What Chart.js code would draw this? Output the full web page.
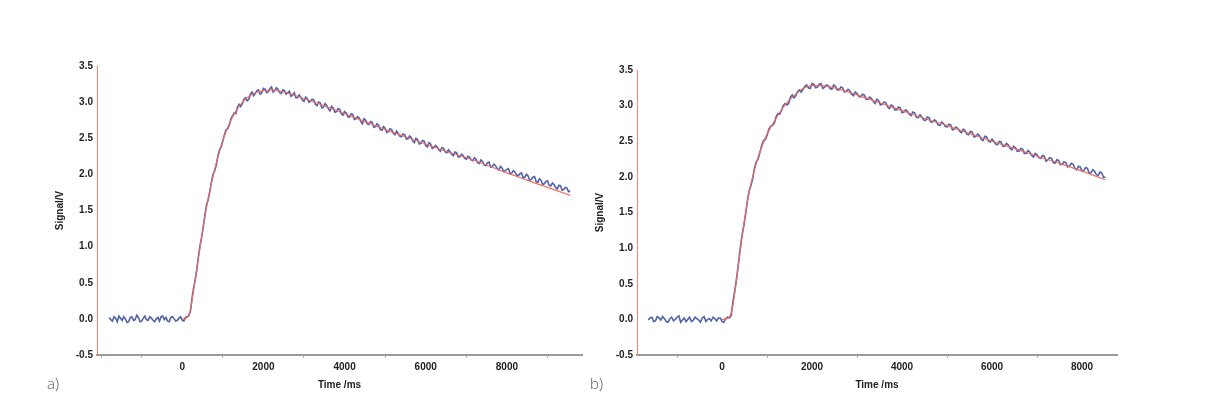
<!DOCTYPE html>
<html>
<head>
<meta charset="utf-8">
<script src="https://cdn.jsdelivr.net/npm/chart.js@4"></script>
<style>
  body {
    margin: 0;
    width: 1217px;
    height: 399px;
    background: #fff;
    position: relative;
    overflow: hidden;
  }
  canvas { position: absolute; top: 0; }
  #chartA { left: 0; }
  #chartB { left: 540px; }
  .panel {
    position: absolute;
    top: 376px;
    font-family: "Open Sans", sans-serif;
    font-weight: 300;
    font-size: 15px;
    line-height: 15px;
    color: #555;
  }
</style>
</head>
<body>
<canvas id="chartA" width="600" height="399"></canvas>
<canvas id="chartB" width="600" height="399"></canvas>
<div class="panel" style="left:47px">a)</div>
<div class="panel" style="left:590px">b)</div>

<script>
// time axis: small tick marks every 1000 ms, labels every 2000 ms
const xTickMarks = [-2000, -1000, 0, 1000, 2000, 3000, 4000, 5000, 6000, 7000, 8000, 9000];
const xTickLabels = [0, 2000, 4000, 6000, 8000];

// panel a) measured signal (blue)
const timesA = [
  -1800, -1760, -1720, -1680, -1640, -1600, -1560, -1520, -1480, -1440,
  -1400, -1360, -1320, -1280, -1240, -1200, -1160, -1120, -1080, -1040,
  -1000, -960, -920, -880, -840, -800, -760, -720, -680, -640,
  -600, -560, -520, -480, -440, -400, -360, -320, -280, -240,
  -200, -160, -120, -80, -40, 0, 40, 80, 120, 160,
  200, 240, 280, 320, 360, 400, 440, 480, 520, 560,
  600, 640, 680, 720, 760, 800, 840, 880, 920, 960,
  1000, 1040, 1080, 1120, 1160, 1200, 1240, 1280, 1320, 1360,
  1400, 1440, 1480, 1520, 1560, 1600, 1640, 1680, 1720, 1760,
  1800, 1840, 1880, 1920, 1960, 2000, 2040, 2080, 2120, 2160,
  2200, 2240, 2280, 2320, 2360, 2400, 2440, 2480, 2520, 2560,
  2600, 2640, 2680, 2720, 2760, 2800, 2840, 2880, 2920, 2960,
  3000, 3040, 3080, 3120, 3160, 3200, 3240, 3280, 3320, 3360,
  3400, 3440, 3480, 3520, 3560, 3600, 3640, 3680, 3720, 3760,
  3800, 3840, 3880, 3920, 3960, 4000, 4040, 4080, 4120, 4160,
  4200, 4240, 4280, 4320, 4360, 4400, 4440, 4480, 4520, 4560,
  4600, 4640, 4680, 4720, 4760, 4800, 4840, 4880, 4920, 4960,
  5000, 5040, 5080, 5120, 5160, 5200, 5240, 5280, 5320, 5360,
  5400, 5440, 5480, 5520, 5560, 5600, 5640, 5680, 5720, 5760,
  5800, 5840, 5880, 5920, 5960, 6000, 6040, 6080, 6120, 6160,
  6200, 6240, 6280, 6320, 6360, 6400, 6440, 6480, 6520, 6560,
  6600, 6640, 6680, 6720, 6760, 6800, 6840, 6880, 6920, 6960,
  7000, 7040, 7080, 7120, 7160, 7200, 7240, 7280, 7320, 7360,
  7400, 7440, 7480, 7520, 7560, 7600, 7640, 7680, 7720, 7760,
  7800, 7840, 7880, 7920, 7960, 8000, 8040, 8080, 8120, 8160,
  8200, 8240, 8280, 8320, 8360, 8400, 8440, 8480, 8520, 8560,
  8600, 8640, 8680, 8720, 8760, 8800, 8840, 8880, 8920, 8960,
  9000, 9040, 9080, 9120, 9160, 9200, 9240, 9280, 9320, 9360,
  9400, 9440, 9480, 9520, 9560
];
const signalA = [
  0.02, -0.01, -0.03, 0.03, 0.01, -0.04, 0.04, 0.01, -0.02, 0.03,
  0.00, -0.05, -0.04, 0.02, 0.03, -0.02, -0.01, 0.05, 0.02, -0.04,
  -0.03, 0.01, 0.04, -0.01, -0.02, 0.03, 0.01, -0.02, -0.04, 0.00,
  0.02, -0.03, 0.03, 0.04, -0.01, 0.02, -0.03, -0.04, 0.02, 0.03,
  0.00, -0.03, -0.02, 0.01, 0.03, -0.02, -0.03, 0.02, 0.03, 0.04,
  0.10, 0.28, 0.43, 0.54, 0.68, 0.87, 1.02, 1.13, 1.28, 1.44,
  1.58, 1.65, 1.76, 1.90, 2.00, 2.05, 2.13, 2.26, 2.34, 2.38,
  2.46, 2.55, 2.62, 2.63, 2.68, 2.77, 2.81, 2.85, 2.84, 2.93,
  2.97, 2.94, 2.98, 3.04, 3.06, 3.02, 3.04, 3.11, 3.14, 3.09,
  3.12, 3.16, 3.17, 3.11, 3.13, 3.19, 3.18, 3.13, 3.14, 3.19,
  3.21, 3.14, 3.16, 3.20, 3.18, 3.13, 3.12, 3.17, 3.16, 3.11,
  3.13, 3.15, 3.08, 3.10, 3.13, 3.06, 3.06, 3.10, 3.07, 3.03,
  3.01, 3.07, 3.05, 3.00, 3.01, 3.04, 3.03, 2.97, 2.95, 3.00,
  2.99, 2.92, 2.93, 2.98, 2.95, 2.91, 2.88, 2.94, 2.92, 2.86,
  2.87, 2.91, 2.90, 2.84, 2.82, 2.87, 2.85, 2.80, 2.79, 2.84,
  2.83, 2.76, 2.77, 2.80, 2.78, 2.73, 2.70, 2.77, 2.75, 2.70,
  2.69, 2.73, 2.72, 2.65, 2.66, 2.70, 2.68, 2.62, 2.61, 2.66,
  2.64, 2.58, 2.59, 2.63, 2.62, 2.57, 2.55, 2.60, 2.57, 2.53,
  2.52, 2.56, 2.55, 2.49, 2.49, 2.53, 2.51, 2.46, 2.44, 2.50,
  2.48, 2.42, 2.43, 2.47, 2.46, 2.40, 2.38, 2.44, 2.42, 2.36,
  2.37, 2.40, 2.38, 2.34, 2.32, 2.37, 2.36, 2.31, 2.30, 2.34,
  2.31, 2.28, 2.26, 2.31, 2.30, 2.24, 2.24, 2.28, 2.26, 2.22,
  2.21, 2.25, 2.24, 2.20, 2.19, 2.23, 2.21, 2.16, 2.15, 2.20,
  2.18, 2.13, 2.12, 2.16, 2.17, 2.10, 2.11, 2.14, 2.12, 2.08,
  2.06, 2.11, 2.09, 2.04, 2.05, 2.07, 2.08, 2.01, 2.02, 2.05,
  2.03, 1.99, 1.98, 2.01, 2.02, 1.95, 1.96, 2.00, 1.98, 1.92,
  1.93, 1.96, 1.97, 1.90, 1.89, 1.94, 1.92, 1.86, 1.87, 1.90,
  1.91, 1.85, 1.84, 1.88, 1.86, 1.82, 1.80, 1.85, 1.84, 1.78,
  1.79, 1.82, 1.81, 1.76, 1.77
];

// panel a) fitted curve (red)
const fitTimesA = [0, 100, 200, 300, 400, 500, 600, 700, 800, 900, 1000, 1200, 1400, 1600, 1800, 2000,
  2200, 2500, 3000, 3500, 4000, 4500, 5000, 5500, 6000, 6500, 7000, 7500, 8000, 8500, 9000, 9560];
const fitA = [0.00, 0.01, 0.12, 0.48, 0.85, 1.22, 1.55, 1.83, 2.07, 2.28, 2.47, 2.75, 2.94, 3.06, 3.13, 3.16,
  3.17, 3.14, 3.05, 2.95, 2.84, 2.73, 2.62, 2.52, 2.42, 2.32, 2.23, 2.13, 2.02, 1.92, 1.82, 1.71];

// panel b) measured signal (blue)
const timesB = [
  -1640, -1600, -1560, -1520, -1480, -1440, -1400, -1360, -1320, -1280,
  -1240, -1200, -1160, -1120, -1080, -1040, -1000, -960, -920, -880,
  -840, -800, -760, -720, -680, -640, -600, -560, -520, -480,
  -440, -400, -360, -320, -280, -240, -200, -160, -120, -80,
  -40, 0, 40, 80, 120, 160, 200, 240, 280, 320,
  360, 400, 440, 480, 520, 560, 600, 640, 680, 720,
  760, 800, 840, 880, 920, 960, 1000, 1040, 1080, 1120,
  1160, 1200, 1240, 1280, 1320, 1360, 1400, 1440, 1480, 1520,
  1560, 1600, 1640, 1680, 1720, 1760, 1800, 1840, 1880, 1920,
  1960, 2000, 2040, 2080, 2120, 2160, 2200, 2240, 2280, 2320,
  2360, 2400, 2440, 2480, 2520, 2560, 2600, 2640, 2680, 2720,
  2760, 2800, 2840, 2880, 2920, 2960, 3000, 3040, 3080, 3120,
  3160, 3200, 3240, 3280, 3320, 3360, 3400, 3440, 3480, 3520,
  3560, 3600, 3640, 3680, 3720, 3760, 3800, 3840, 3880, 3920,
  3960, 4000, 4040, 4080, 4120, 4160, 4200, 4240, 4280, 4320,
  4360, 4400, 4440, 4480, 4520, 4560, 4600, 4640, 4680, 4720,
  4760, 4800, 4840, 4880, 4920, 4960, 5000, 5040, 5080, 5120,
  5160, 5200, 5240, 5280, 5320, 5360, 5400, 5440, 5480, 5520,
  5560, 5600, 5640, 5680, 5720, 5760, 5800, 5840, 5880, 5920,
  5960, 6000, 6040, 6080, 6120, 6160, 6200, 6240, 6280, 6320,
  6360, 6400, 6440, 6480, 6520, 6560, 6600, 6640, 6680, 6720,
  6760, 6800, 6840, 6880, 6920, 6960, 7000, 7040, 7080, 7120,
  7160, 7200, 7240, 7280, 7320, 7360, 7400, 7440, 7480, 7520,
  7560, 7600, 7640, 7680, 7720, 7760, 7800, 7840, 7880, 7920,
  7960, 8000, 8040, 8080, 8120, 8160, 8200, 8240, 8280, 8320,
  8360, 8400, 8440, 8480, 8520
];
const signalB = [
  -0.01, 0.02, 0.03, -0.03, -0.02, 0.04, 0.02, -0.01, 0.04, 0.01,
  -0.03, -0.04, 0.01, 0.03, -0.02, 0.00, 0.03, 0.05, -0.04, -0.01,
  0.02, -0.03, 0.00, 0.03, -0.03, -0.01, 0.03, 0.01, -0.01, -0.04,
  0.02, 0.04, -0.03, 0.00, 0.01, -0.02, 0.03, 0.01, -0.02, 0.02,
  0.02, -0.03, -0.04, 0.01, 0.03, 0.02, 0.05, 0.24, 0.39, 0.56,
  0.76, 0.98, 1.17, 1.30, 1.46, 1.65, 1.80, 1.87, 1.97, 2.12,
  2.21, 2.25, 2.34, 2.44, 2.51, 2.52, 2.58, 2.67, 2.71, 2.72,
  2.75, 2.84, 2.89, 2.88, 2.93, 3.00, 3.03, 3.01, 3.03, 3.12,
  3.15, 3.11, 3.14, 3.20, 3.22, 3.19, 3.23, 3.27, 3.29, 3.25,
  3.24, 3.31, 3.30, 3.25, 3.26, 3.30, 3.31, 3.24, 3.26, 3.29,
  3.28, 3.24, 3.23, 3.29, 3.27, 3.22, 3.22, 3.26, 3.25, 3.19,
  3.20, 3.23, 3.21, 3.16, 3.14, 3.19, 3.17, 3.13, 3.12, 3.16,
  3.15, 3.09, 3.09, 3.12, 3.10, 3.06, 3.03, 3.09, 3.07, 3.01,
  3.02, 3.05, 3.04, 2.98, 2.96, 3.01, 2.99, 2.94, 2.94, 2.98,
  2.97, 2.90, 2.91, 2.94, 2.92, 2.88, 2.86, 2.91, 2.90, 2.84,
  2.83, 2.87, 2.84, 2.80, 2.79, 2.84, 2.83, 2.77, 2.77, 2.80,
  2.78, 2.73, 2.72, 2.77, 2.75, 2.71, 2.70, 2.74, 2.73, 2.66,
  2.67, 2.70, 2.68, 2.64, 2.62, 2.67, 2.65, 2.60, 2.59, 2.64,
  2.63, 2.56, 2.57, 2.60, 2.58, 2.53, 2.51, 2.57, 2.56, 2.50,
  2.49, 2.53, 2.50, 2.46, 2.45, 2.50, 2.49, 2.43, 2.43, 2.47,
  2.45, 2.40, 2.38, 2.43, 2.41, 2.36, 2.36, 2.40, 2.39, 2.33,
  2.33, 2.37, 2.35, 2.30, 2.28, 2.33, 2.31, 2.27, 2.26, 2.30,
  2.29, 2.22, 2.24, 2.27, 2.26, 2.20, 2.19, 2.24, 2.23, 2.17,
  2.18, 2.21, 2.20, 2.14, 2.15, 2.19, 2.18, 2.12, 2.10, 2.15,
  2.14, 2.08, 2.09, 2.13, 2.12, 2.05, 2.06, 2.10, 2.08, 2.03,
  2.02, 2.07, 2.05, 1.99, 2.00
];

// panel b) fitted curve (red)
const fitTimesB = [0, 100, 200, 300, 400, 500, 600, 700, 800, 900, 1000, 1200, 1400, 1600, 1800, 2000,
  2200, 2500, 3000, 3500, 4000, 4500, 5000, 5500, 6000, 6500, 7000, 7500, 8000, 8520];
const fitB = [0.00, 0.01, 0.08, 0.45, 0.95, 1.40, 1.78, 2.05, 2.27, 2.45, 2.60, 2.82, 3.01, 3.14, 3.24, 3.28,
  3.28, 3.25, 3.15, 3.04, 2.93, 2.82, 2.72, 2.61, 2.50, 2.40, 2.29, 2.19, 2.08, 1.96];

Chart.defaults.font.family = '"Liberation Sans", Arial, sans-serif';

function toPoints(xs, ys) {
  return xs.map((x, i) => ({ x: x, y: ys[i] }));
}

function drawPanel(id, times, signal, fitTimes, fit, xMin, xMax, padTop, padRight) {
  const ctx = document.getElementById(id).getContext("2d");
  const axisFont = { size: 10, weight: "bold" };

  new Chart(ctx, {
    type: "line",
    data: {
      datasets: [
        {
          data: toPoints(fitTimes, fit),
          borderColor: "rgba(240, 108, 92, 0.95)",
          borderWidth: 1.2,
          pointRadius: 0,
          cubicInterpolationMode: "monotone",
        },
        {
          data: toPoints(times, signal),
          borderColor: "rgba(36, 60, 150, 0.8)",
          borderWidth: 1.6,
          pointRadius: 0,
          tension: 0,
        },
      ],
    },
    options: {
      responsive: false,
      animation: false,
      events: [],
      layout: { padding: { top: padTop, right: padRight, left: 50, bottom: 0 } },
      plugins: {
        legend: { display: false },
        tooltip: { enabled: false },
      },
      scales: {
        x: {
          type: "linear",
          min: xMin,
          max: xMax,
          border: { color: "#9a9a9a", width: 2 },
          grid: {
            drawOnChartArea: false,
            drawTicks: true,
            tickLength: 3,
            lineWidth: 1,
            color: (c) => (c.tick && !xTickLabels.includes(c.tick.value) ? "#b0b0b0" : "rgba(0,0,0,0)"),
          },
          afterBuildTicks: (s) => {
            s.ticks = xTickMarks.filter((v) => v >= s.min && v <= s.max).map((v) => ({ value: v }));
          },
          ticks: {
            autoSkip: false,
            maxRotation: 0,
            padding: 3,
            color: "#222",
            font: axisFont,
            callback: (v) => (xTickLabels.includes(v) ? String(v) : ""),
          },
          title: {
            display: true,
            text: "Time /ms",
            color: "#222",
            font: axisFont,
            padding: { top: 0, bottom: 8 },
          },
          afterFit: (s) => { s.height = 44; },
        },
        y: {
          min: -0.5,
          max: 3.5,
          border: { color: "#f4836f", width: 1 },
          grid: { display: false, drawTicks: false },
          ticks: {
            stepSize: 0.5,
            padding: 4,
            color: "#222",
            font: axisFont,
            callback: (v) => v.toFixed(1),
          },
          title: {
            display: true,
            text: "Signal/V",
            color: "#222",
            font: axisFont,
            padding: { top: 4, bottom: 4 },
          },
          afterFit: (s) => { s.width = 47; },
        },
      },
    },
  });
}

drawPanel("chartA", timesA, signalA, fitTimesA, fitA, -2100, 9850, 66, 18);
drawPanel("chartB", timesB, signalB, fitTimesB, fitB, -1890, 8777, 70, 23);
</script>
</body>
</html>
